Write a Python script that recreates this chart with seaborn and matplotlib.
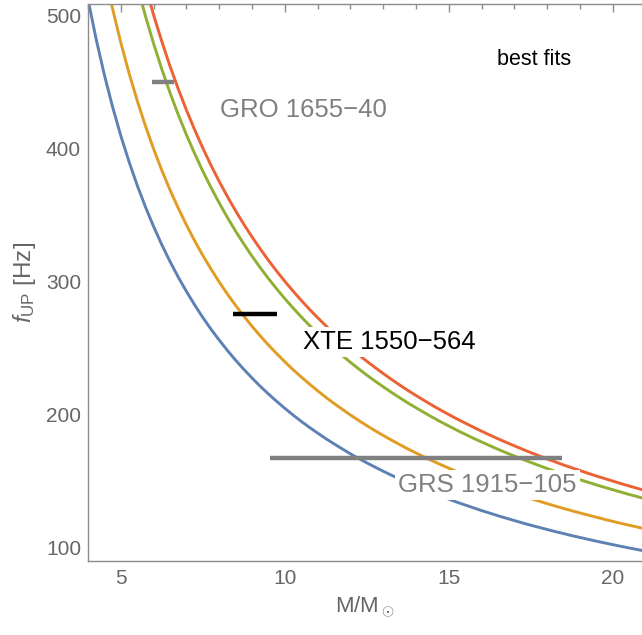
import numpy as np
import pandas as pd
import matplotlib
matplotlib.use('Agg')
import matplotlib.pyplot as plt
from matplotlib.ticker import MultipleLocator
import seaborn as sns

mass_grid = [4.00, 4.25, 4.50, 4.75, 5.00, 5.25, 5.50, 5.75, 6.00, 6.25, 6.50, 6.75,
             7.00, 7.25, 7.50, 7.75, 8.00, 8.25, 8.50, 8.75, 9.00, 9.25, 9.50, 9.75,
             10.00, 10.25, 10.50, 10.75, 11.00, 11.25, 11.50, 11.75, 12.00, 12.25,
             12.50, 12.75, 13.00, 13.25, 13.50, 13.75, 14.00, 14.25, 14.50, 14.75,
             15.00, 15.25, 15.50, 15.75, 16.00, 16.25, 16.50, 16.75, 17.00, 17.25,
             17.50, 17.75, 18.00, 18.25, 18.50, 18.75, 19.00, 19.25, 19.50, 19.75,
             20.00, 20.25, 20.50, 20.75, 21.00]

fit_blue = [512.5, 482.4, 455.6, 431.6, 410.0, 390.5, 372.7, 356.5, 341.7, 328.0, 315.4, 303.7,
            292.9, 282.8, 273.3, 264.5, 256.3, 248.5, 241.2, 234.3, 227.8, 221.6, 215.8, 210.3,
            205.0, 200.0, 195.2, 190.7, 186.4, 182.2, 178.3, 174.5, 170.8, 167.3,
            164.0, 160.8, 157.7, 154.7, 151.9, 149.1, 146.4, 143.9, 141.4, 139.0,
            136.7, 134.4, 132.3, 130.2, 128.1, 126.2, 124.2, 122.4, 120.6, 118.8,
            117.1, 115.5, 113.9, 112.3, 110.8, 109.3, 107.9, 106.5, 105.1, 103.8,
            102.5, 101.2, 100.0, 98.8, 97.6]
fit_orange = [600.0, 564.7, 533.3, 505.3, 480.0, 457.1, 436.4, 417.4, 400.0, 384.0, 369.2, 355.6,
              342.9, 331.0, 320.0, 309.7, 300.0, 290.9, 282.4, 274.3, 266.7, 259.5, 252.6, 246.2,
              240.0, 234.1, 228.6, 223.3, 218.2, 213.3, 208.7, 204.3, 200.0, 195.9,
              192.0, 188.2, 184.6, 181.1, 177.8, 174.5, 171.4, 168.4, 165.5, 162.7,
              160.0, 157.4, 154.8, 152.4, 150.0, 147.7, 145.5, 143.3, 141.2, 139.1,
              137.1, 135.2, 133.3, 131.5, 129.7, 128.0, 126.3, 124.7, 123.1, 121.5,
              120.0, 118.5, 117.1, 115.7, 114.3]
fit_green = [718.8, 676.5, 638.9, 605.3, 575.0, 547.6, 522.7, 500.0, 479.2, 460.0, 442.3, 425.9,
             410.7, 396.6, 383.3, 371.0, 359.4, 348.5, 338.2, 328.6, 319.4, 310.8, 302.6, 294.9,
             287.5, 280.5, 273.8, 267.4, 261.4, 255.6, 250.0, 244.7, 239.6, 234.7,
             230.0, 225.5, 221.2, 217.0, 213.0, 209.1, 205.4, 201.8, 198.3, 194.9,
             191.7, 188.5, 185.5, 182.5, 179.7, 176.9, 174.2, 171.6, 169.1, 166.7,
             164.3, 162.0, 159.7, 157.5, 155.4, 153.3, 151.3, 149.4, 147.4, 145.6,
             143.8, 142.0, 140.2, 138.6, 136.9]
fit_red = [751.3, 707.1, 667.8, 632.6, 601.0, 572.4, 546.4, 522.6, 500.8, 480.8, 462.3, 445.2,
           429.3, 414.5, 400.7, 387.7, 375.6, 364.2, 353.5, 343.4, 333.9, 324.9, 316.3, 308.2,
           300.5, 293.2, 286.2, 279.5, 273.2, 267.1, 261.3, 255.7, 250.4, 245.3,
           240.4, 235.7, 231.2, 226.8, 222.6, 218.5, 214.6, 210.9, 207.2, 203.7,
           200.3, 197.0, 193.9, 190.8, 187.8, 184.9, 182.1, 179.4, 176.8, 174.2,
           171.7, 169.3, 166.9, 164.7, 162.4, 160.3, 158.2, 156.1, 154.1, 152.2,
           150.3, 148.4, 146.6, 144.8, 143.1]

fit_names = ['blue', 'orange', 'green', 'red']
fit_colors = ['#5E81B5', '#E19C24', '#8FB032', '#EB6235']

# observed sources: mass range (lo, hi) and frequency
src_names = ['GRO 1655\u221240', 'XTE 1550\u2212564', 'GRS 1915\u2212105']
src_m_lo = [5.96, 8.43, 9.56]
src_m_hi = [6.63, 9.77, 18.45]
src_freq = [450, 276, 168]
src_colors = ['#808080', '#000000', '#808080']
label_x = [8.03, 10.57, 13.46]
label_y = [429, 255, 147.5]

# ── Long table for seaborn ──
fits = pd.DataFrame({'M': mass_grid, 'blue': fit_blue, 'orange': fit_orange,
                     'green': fit_green, 'red': fit_red})
long_df = fits.melt(id_vars='M', var_name='fit', value_name='f')

# ── Style ──
sns.set_style('white')
plt.rcParams['font.family'] = ['Liberation Sans', 'DejaVu Sans']
plt.rcParams['mathtext.fontset'] = 'custom'
plt.rcParams['mathtext.rm'] = 'Liberation Sans'
plt.rcParams['mathtext.it'] = 'Liberation Sans:italic'
plt.rcParams['mathtext.sf'] = 'Liberation Sans'

fig = plt.figure(figsize=(6.42, 6.35), dpi=100)
ax = fig.add_axes([88 / 642, 74 / 635, 554 / 642, 557 / 635])

sns.lineplot(data=long_df, x='M', y='f', hue='fit', hue_order=fit_names,
             palette=fit_colors, linewidth=2.1, legend=False, ax=ax,
             estimator=None, zorder=2)

for lo, hi, fq, col in zip(src_m_lo, src_m_hi, src_freq, src_colors):
    ax.plot([lo, hi], [fq, fq], color=col, lw=3.2, solid_capstyle='butt', zorder=3)

for name, lx, ly, col in zip(src_names, label_x, label_y, src_colors):
    ax.text(lx, ly, name, color=col, fontsize=18.5, ha='left', va='center',
            zorder=4, bbox=dict(facecolor='white', edgecolor='none', pad=2))

ax.text(16.46, 467, 'best fits', color='black', fontsize=15.5, ha='left',
        va='center', zorder=4)

ax.set_xlim(4.0, 20.89)
ax.set_ylim(90.2, 509)

axis_gray = '#8c8c8c'
text_gray = '#666666'
ax.xaxis.set_major_locator(MultipleLocator(5))
ax.xaxis.set_minor_locator(MultipleLocator(1))
ax.yaxis.set_major_locator(MultipleLocator(100))
ax.yaxis.set_minor_locator(MultipleLocator(20))
ax.tick_params(which='both', direction='in', colors=axis_gray, width=1,
               top=True, right=False, labelcolor=text_gray, labelsize=15)
ax.tick_params(which='major', length=6)
ax.tick_params(which='minor', length=3.5)
ax.tick_params(axis='x', pad=6)
ax.tick_params(axis='y', pad=5)

for side in ['left', 'bottom', 'top']:
    ax.spines[side].set_color(axis_gray)
    ax.spines[side].set_linewidth(1)
ax.spines['right'].set_visible(False)

ax.set_xlabel(r'M/M$_\odot$', fontsize=16, color=text_gray, labelpad=4)
ax.set_ylabel(r'$f_{\mathrm{UP}}$ [Hz]', fontsize=17.5, color=text_gray, labelpad=6)

fig.savefig('out.png', dpi=100)
